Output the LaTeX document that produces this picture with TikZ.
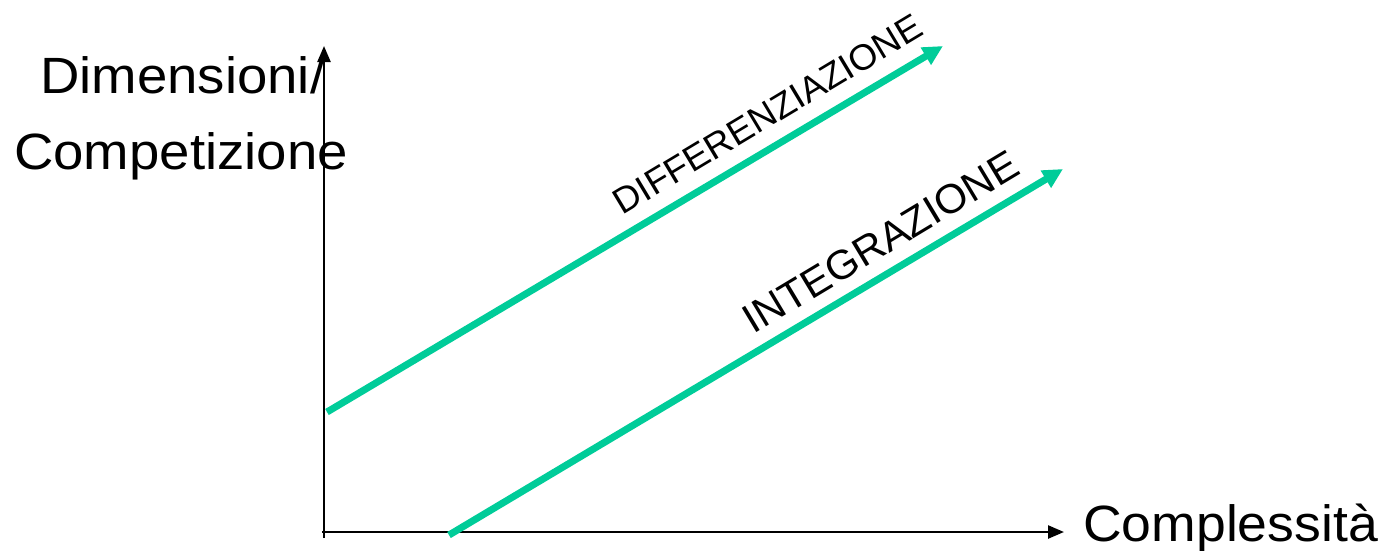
\documentclass[tikz,border=0pt]{standalone}
\usepackage{fontspec}
\setmainfont{Liberation Sans}
\usetikzlibrary{arrows.meta}
\definecolor{teal}{HTML}{00CC99}
\begin{document}
\begin{tikzpicture}[x=1pt,y=-1pt,
  axis/.style={line width=2.4pt,draw=black,-{Triangle[length=16pt,width=13pt]}},
  trend/.style={line width=7pt,draw=teal,-{Triangle[length=20pt,width=19pt]}},
  biglabel/.style={inner sep=0pt,anchor=base west,font=\fontsize{51}{60}\selectfont},
  slantlabel/.style={inner sep=0pt,anchor=base,rotate=31}]
\useasboundingbox (0,0) rectangle (1388,550);
% axes
\coordinate (ybot) at (324,538);
\coordinate (ytop) at (324,46);
\coordinate (xstart) at (322,532);
\coordinate (xend) at (1064,532);
\draw[axis] (ybot) -- (ytop);
\draw[axis] (xstart) -- (xend);
% trend lines
\coordinate (d0) at (327,412);
\coordinate (d1) at (943,46);
\coordinate (i0) at (449,535);
\coordinate (i1) at (1063,169);
\draw[trend] (d0) -- (d1);
\draw[trend] (i0) -- (i1);
% labels
\node[biglabel] (ylab1) at (40,93) {\scalebox{1.07}[1]{Dimensioni/}};
\node[biglabel] (ylab2) at (14,169) {\scalebox{1.07}[1]{Competizione}};
\node[biglabel] (xlab) at (1083,541) {\scalebox{1.05}[1]{Complessità}};
\node[slantlabel,font=\fontsize{36}{42}\selectfont] (dlab) at (774,125) {\scalebox{1.02}[1]{DIFFERENZIAZIONE}};
\node[slantlabel,font=\fontsize{41}{48}\selectfont] (ilab) at (888,254) {\scalebox{1.02}[1]{INTEGRAZIONE}};
\end{tikzpicture}
\end{document}
